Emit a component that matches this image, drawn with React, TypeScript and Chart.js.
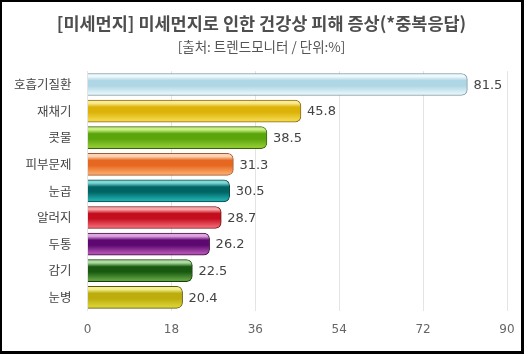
import React, { useEffect, useRef } from "react";
import { Chart, registerables } from "chart.js";

Chart.register(...registerables);

const TITLE = "[미세먼지] 미세먼지로 인한 건강상 피해 증상(*중복응답)";
const SUBTITLE = "[출처: 트렌드모니터 / 단위:%]";
const categories = ["호흡기질환", "재채기", "콧물", "피부문제", "눈곱", "알러지", "두통", "감기", "눈병"];
const values = [81.5, 45.8, 38.5, 31.3, 30.5, 28.7, 26.2, 22.5, 20.4];
const xTicks = [0, 18, 36, 54, 72, 90];

// [border, highlight, mid(dark), bottom(light)]
const barColors = [
  ["#7f98a2", "#eef9fc", "#aed6e4", "#e2f3f8"],
  ["#8a6c18", "#faea90", "#dcb208", "#f2d648"],
  ["#3c6210", "#c8f080", "#5aa40c", "#8ec830"],
  ["#a05c38", "#fcd4b4", "#e66820", "#f8a462"],
  ["#0e4646", "#7ed8d8", "#006464", "#1eaaaa"],
  ["#701418", "#f8a4a4", "#c40e1e", "#ee5e6c"],
  ["#3e0e40", "#e0a4e0", "#5c0870", "#ae4eb0"],
  ["#183e10", "#acdca0", "#185810", "#5c9e3e"],
  ["#5e5610", "#f2f090", "#bcac0c", "#d8d032"],
];

const BAR_THICK = 22;

export default function App() {
  const ref = useRef<HTMLCanvasElement | null>(null);

  useEffect(() => {
    if (!ref.current) return;
    const labelPlugin = {
      id: "valueLabels",
      afterDatasetsDraw(chart: any) {
        const c = chart.ctx;
        const meta = chart.getDatasetMeta(0);
        c.save();
        c.font = "13px 'DejaVu Sans', sans-serif";
        c.fillStyle = "#444";
        c.textAlign = "left";
        c.textBaseline = "middle";
        meta.data.forEach((el: any, i: number) => {
          c.fillText(String(values[i]), el.x + 6, el.y + 1);
        });
        c.restore();
      },
    };
    const chart = new Chart(ref.current, {
      type: "bar",
      data: {
        labels: categories,
        datasets: [
          {
            data: values,
            barThickness: BAR_THICK,
            borderWidth: 1,
            borderRadius: 6,
            borderSkipped: "start",
            borderColor: barColors.map((b) => b[0]),
            backgroundColor: (ctx: any) => {
              const chart = ctx.chart;
              const i = ctx.dataIndex;
              const cols = barColors[i] || barColors[0];
              const ys = chart.scales && chart.scales.y;
              if (!ys || i === undefined) return cols[2];
              const yc = ys.getPixelForValue(i);
              if (!isFinite(yc)) return cols[2];
              const top = yc - BAR_THICK / 2;
              const g = chart.ctx.createLinearGradient(0, top, 0, top + BAR_THICK);
              g.addColorStop(0, cols[1]);
              g.addColorStop(0.14, cols[1]);
              g.addColorStop(0.32, cols[2]);
              g.addColorStop(0.55, cols[2]);
              g.addColorStop(0.9, cols[3]);
              g.addColorStop(1, cols[3]);
              return g;
            },
          } as any,
        ],
      },
      options: {
        indexAxis: "y",
        animation: false,
        responsive: false,
        maintainAspectRatio: false,
        layout: { padding: { left: 0, right: 0, top: 0, bottom: 2 } },
        plugins: {
          legend: { display: false },
          tooltip: { enabled: false },
          title: {
            display: true,
            text: TITLE,
            color: "#4e4e4e",
            font: { family: "'Noto Sans CJK KR', sans-serif", size: 17.5, weight: "bold" },
            padding: { top: 11, bottom: 5 },
          },
          subtitle: {
            display: true,
            text: SUBTITLE,
            color: "#555",
            font: { family: "'Noto Sans CJK KR', sans-serif", size: 13.5 },
            padding: { top: 0, bottom: 16 },
          },
        },
        scales: {
          x: {
            min: 0,
            max: 90,
            afterBuildTicks: (s: any) => {
              s.ticks = xTicks.map((v) => ({ value: v }));
            },
            afterFit: (s: any) => {
              s.paddingRight = 14;
              s.paddingLeft = 0;
            },
            grid: { color: "#e4e4e4", drawTicks: false },
            border: { display: false },
            ticks: {
              color: "#666",
              padding: 12,
              font: { family: "'DejaVu Sans', sans-serif", size: 12 },
            },
          },
          y: {
            grid: { display: false },
            border: { display: false },
            afterFit: (s: any) => {
              s.width = 85.5;
            },
            ticks: {
              color: "#444",
              padding: 8,
              font: { family: "'Noto Sans CJK KR', sans-serif", size: 12.5 },
            },
          },
        },
      },
      plugins: [labelPlugin],
    } as any);
    chart.update();
    return () => chart.destroy();
  }, []);

  return (
    <div
      style={{
        position: "fixed",
        left: 0,
        top: 0,
        width: 524,
        height: 354,
        boxSizing: "border-box",
        borderStyle: "solid",
        borderColor: "#000",
        borderWidth: "2px 3px 3px 2px",
        background: "#fff",
      }}
    >
      <canvas ref={ref} width={519} height={349} style={{ display: "block" }} />
    </div>
  );
}
